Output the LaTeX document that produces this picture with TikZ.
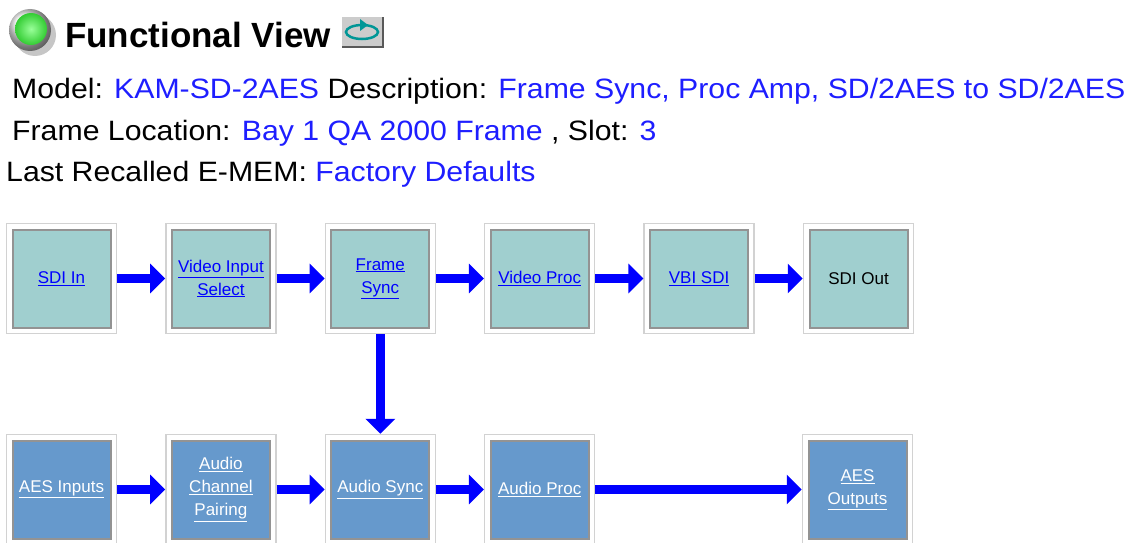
\documentclass[tikz,border=0pt]{standalone}
\usepackage{fontspec}
\setmainfont{Liberation Sans}
\newfontfamily\hdrfont[FakeStretch=1.08]{Liberation Sans}
\usetikzlibrary{arrows.meta}
\definecolor{vidfill}{RGB}{160,207,207}
\definecolor{audfill}{RGB}{102,153,204}
\definecolor{lnkblue}{RGB}{30,30,255}
\definecolor{iconteal}{RGB}{0,150,150}
\definecolor{lampgreen}{RGB}{60,240,60}
\newcommand{\ulnk}[1]{\underline{#1}}

\begin{document}
\begin{tikzpicture}[x=1pt,y=-1pt,
	blk/.style={draw=gray!35, line width=1.5pt, fill=white, minimum size=110pt, inner sep=0pt,
		align=center, font=\fontsize{17}{23}\selectfont,
		path picture={\draw[gray!85, line width=2pt, fill=#1]
			([shift={(6pt,6pt)}]path picture bounding box.south west) rectangle
			([shift={(-6pt,-6pt)}]path picture bounding box.north east);}},
	vidbox/.style={blk=vidfill, text=blue},
	audbox/.style={blk=audfill, text=white},
	flow/.style={blue, line width=9pt, -{Triangle[length=15pt,width=29pt]}},
	hdr/.style={anchor=base west, inner sep=0pt, font=\hdrfont\fontsize{28}{34}\selectfont}]
	%%%%% START %%%%%
	
	\useasboundingbox (0,0) rectangle (1140,543);
	
	% status lamp
	\fill[gray!45] (35,35) circle (21);
	\shade[ball color=gray!15] (30,30) circle (21);
	\shade[inner color=green!40!white, outer color=lampgreen!85!black] (31,29) circle (16);
	
	\node[anchor=base west, inner sep=0pt, font=\fontsize{35}{40}\selectfont\bfseries] (title) at (65,48) {Functional View};
	
	% refresh button
	\fill[gray!40] (342,17) rectangle (383,47);
	\draw[gray!70!black, line width=1.5pt] (342,47) -- (383,47) -- (383,17);
	\draw[iconteal, line width=2.5pt] (362,32) ellipse (16 and 7);
	\fill[iconteal] (368,25) -- (360,19) -- (360,31) -- cycle;
	
	\node[hdr] (model) at (12,98) {Model: \textcolor{lnkblue}{KAM-SD-2AES} Description: \textcolor{lnkblue}{Frame Sync, Proc Amp, SD/2AES to SD/2AES}};
	\node[hdr] (frameloc) at (12,140) {Frame Location: \textcolor{lnkblue}{Bay 1 QA 2000 Frame} , Slot: \textcolor{lnkblue}{3}};
	\node[hdr] (emem) at (6,181) {Last Recalled E-MEM: \textcolor{lnkblue}{Factory Defaults}};
	
	% video row
	\node[vidbox] (sdiin) at (61.5,278.5) {\ulnk{SDI In}};
	\node[vidbox] (vidsel) at (220.9,278.5) {\ulnk{Video Input}\\\ulnk{Select}};
	\node[vidbox] (frmsync) at (380.3,278.5) {\ulnk{Frame}\\\ulnk{Sync}};
	\node[vidbox] (vidproc) at (539.7,278.5) {\ulnk{Video Proc}};
	\node[vidbox] (vbisdi) at (699.1,278.5) {\ulnk{VBI SDI}};
	\node[vidbox, text=black] (sdiout) at (858.5,278.5) {SDI Out};
	
	% audio row
	\node[audbox] (aesin) at (61.5,489.5) {\ulnk{AES Inputs}};
	\node[audbox] (chpair) at (220.9,489.5) {\ulnk{Audio}\\\ulnk{Channel}\\\ulnk{Pairing}};
	\node[audbox] (audsync) at (380.3,489.5) {\ulnk{Audio Sync}};
	\node[audbox] (audproc) at (539.7,489.5) {\ulnk{Audio Proc}};
	\node[audbox] (aesout) at (857.5,489.5) {\ulnk{AES}\\\ulnk{Outputs}};
	
	\draw[flow] (sdiin) -- (vidsel);
	\draw[flow] (vidsel) -- (frmsync);
	\draw[flow] (frmsync) -- (vidproc);
	\draw[flow] (vidproc) -- (vbisdi);
	\draw[flow] (vbisdi) -- (sdiout);
	\draw[flow] (frmsync) -- (audsync);
	\draw[flow] (aesin) -- (chpair);
	\draw[flow] (chpair) -- (audsync);
	\draw[flow] (audsync) -- (audproc);
	\draw[flow] (audproc) -- (aesout);
	
	%%%%% END %%%%%
\end{tikzpicture}
\end{document}
